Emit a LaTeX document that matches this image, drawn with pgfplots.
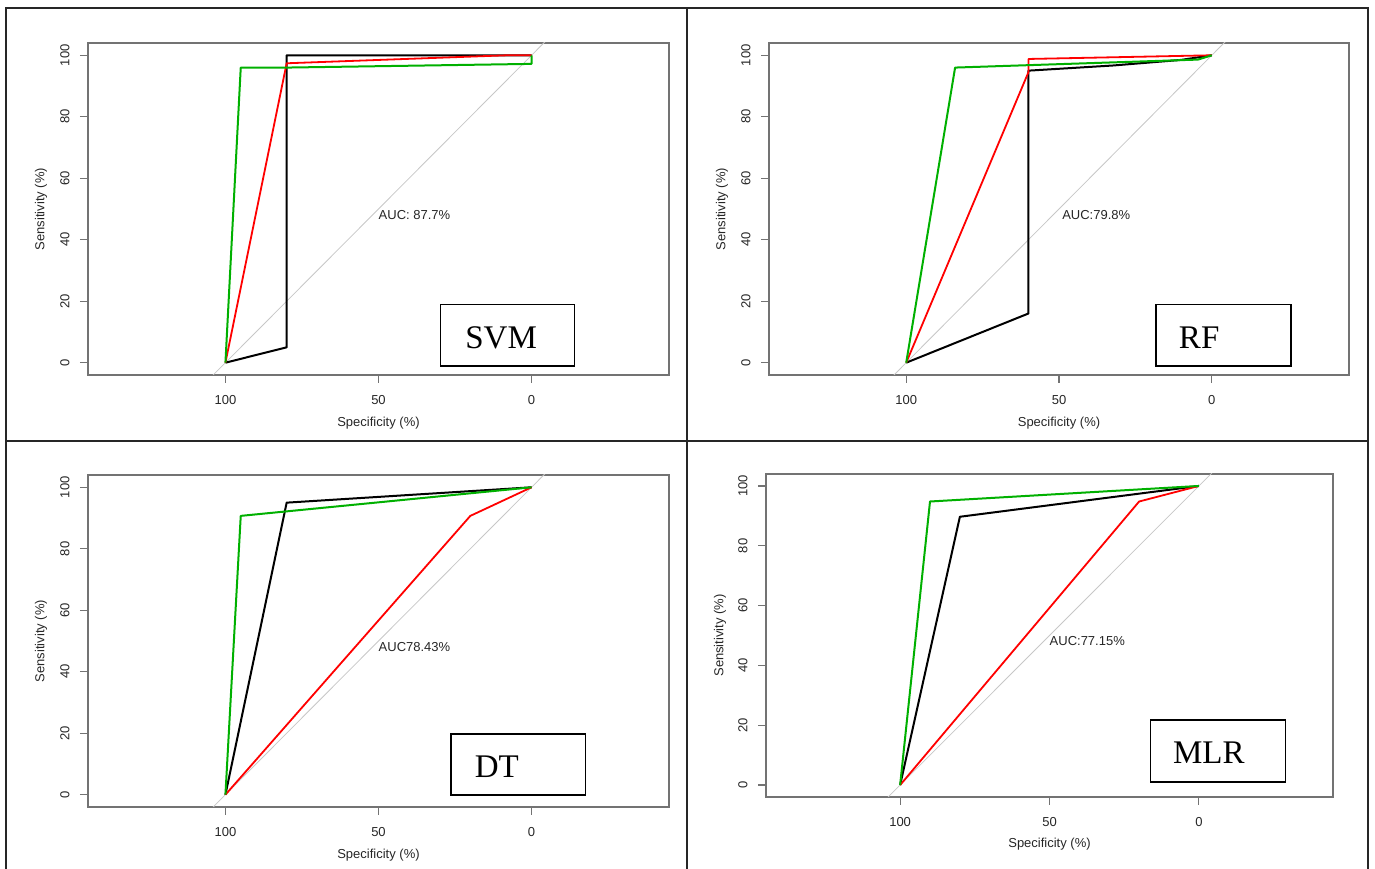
\documentclass[border=0pt]{standalone}
\usepackage{fontspec}
\setmainfont{Liberation Sans}
\newfontfamily\tnr{Liberation Serif}
\usepackage{pgfplots}
\pgfplotsset{compat=1.18}
\definecolor{rgreen}{RGB}{0,176,0}
\definecolor{rred}{RGB}{255,0,0}
\pgfplotsset{
 rocax/.style={
  scale only axis, anchor=south west,
  x dir=reverse, xmin=-44.9, xmax=144.9, ymin=-4, ymax=104,
  xtick={0,50,100}, ytick={0,20,40,60,80,100},
  tick align=outside, major tick length=8pt,
  xtick pos=bottom, ytick pos=left,
  axis line style={black!55, line width=1.1pt},
  every tick/.style={black!55, line width=1.1pt},
  tick label style={font=\fontsize{13}{15}\selectfont, text=black!85},
  /pgf/number format/assume math mode=true,
  xticklabel style={yshift=-9pt},
  yticklabel style={xshift=-7pt, rotate=90, anchor=south},
  xlabel={Specificity (\%)}, ylabel={Sensitivity (\%)},
  label style={font=\fontsize{13}{15}\selectfont, text=black!85},
  xlabel style={at={(axis description cs:0.5,-0.145)}, anchor=center},
  ylabel style={at={(axis description cs:-0.081,0.5)}, anchor=center},
  clip=true,
 },
 diag/.style={black!22, line width=0.8pt, mark=none},
 rocb/.style={black, line width=2pt, mark=none, line join=round},
 rocr/.style={rred, line width=1.8pt, mark=none, line join=round},
 rocg/.style={rgreen, line width=2pt, mark=none, line join=round},
}
\tikzset{
 auc/.style={anchor=west, inner sep=0pt, font=\fontsize{13}{15}\selectfont, text=black!85},
 lab/.style={anchor=base west, inner sep=0pt, font=\tnr\fontsize{33}{36}\selectfont},
}
\begin{document}
\begin{tikzpicture}
\useasboundingbox (0pt,0pt) rectangle (1375pt,869pt);
% panel frame
\draw[black!85, line width=1.8pt] (6pt,0pt) -- (6pt,861pt) -- (1368pt,861pt) -- (1368pt,0pt);
\draw[black!85, line width=1.8pt] (687pt,0pt) -- (687pt,861pt);
\draw[black!85, line width=1.8pt] (6pt,428.3pt) -- (1368pt,428.3pt);

% SVM
\begin{axis}[rocax, at={(88pt,494pt)}, width=581pt, height=332pt]
\addplot[diag] coordinates {(150,-50) (-50,150)};
\addplot[rocb] coordinates {(100,0) (80,5) (80,100) (0,100)};
\addplot[rocr] coordinates {(100,0) (80,97.4) (8,100) (0,100)};
\addplot[rocg] coordinates {(100,0) (95,96) (80,96) (0,97.2) (0,100)};
\node[auc] at (axis cs:50,48) {AUC: 87.7\%};
\draw[black, line width=1.3pt] (axis cs:29.7,-1.1) rectangle (axis cs:-14,18.9);
\node[lab] at (axis cs:21.7,4.5) {SVM};
\end{axis}

% RF
\begin{axis}[rocax, at={(769pt,494pt)}, width=580pt, height=332pt]
\addplot[diag] coordinates {(150,-50) (-50,150)};
\addplot[rocb] coordinates {(100,0) (60,16) (60,95) (32,96.7) (10,98.5) (0,100)};
\addplot[rocr] coordinates {(100,0) (60,94.5) (60,98.8) (0,100)};
\addplot[rocg] coordinates {(100,0) (84,96) (4.5,98.6) (0,100)};
\node[auc] at (axis cs:49,48) {AUC:79.8\%};
\draw[black, line width=1.3pt] (axis cs:18.3,-1.1) rectangle (axis cs:-25.9,18.9);
\node[lab] at (axis cs:10.8,4.5) {RF};
\end{axis}

% DT
\begin{axis}[rocax, at={(88pt,62pt)}, width=581pt, height=332pt]
\addplot[diag] coordinates {(150,-50) (-50,150)};
\addplot[rocb] coordinates {(100,0) (80,95) (0,100)};
\addplot[rocr] coordinates {(100,0) (20,90.7) (0,100)};
\addplot[rocg] coordinates {(100,0) (95,90.7) (0,100)};
\node[auc] at (axis cs:50,48) {AUC78.43\%};
\draw[black, line width=1.3pt] (axis cs:26.3,-0.1) rectangle (axis cs:-17.6,19.7);
\node[lab] at (axis cs:18.6,5.7) {DT};
\end{axis}

% MLR
\begin{axis}[rocax, at={(766pt,72pt)}, width=567pt, height=323pt]
\addplot[diag] coordinates {(150,-50) (-50,150)};
\addplot[rocb] coordinates {(100,0) (80,89.7) (0,100)};
\addplot[rocr] coordinates {(100,0) (20,94.8) (0,100)};
\addplot[rocg] coordinates {(100,0) (90,94.8) (0,100)};
\node[auc] at (axis cs:50,48) {AUC:77.15\%};
\draw[black, line width=1.3pt] (axis cs:16.3,1.0) rectangle (axis cs:-29,21.7);
\node[lab] at (axis cs:8.7,7.2) {MLR};
\end{axis}
\end{tikzpicture}
\end{document}
